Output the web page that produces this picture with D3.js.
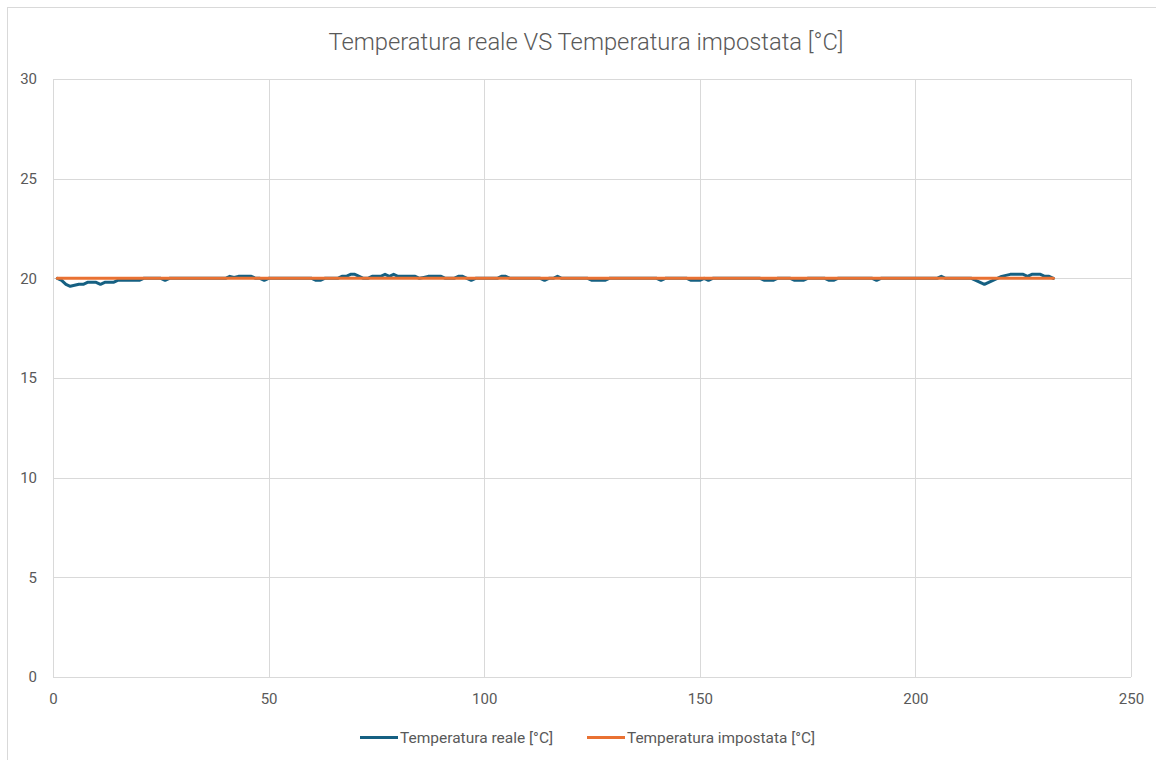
<!DOCTYPE html>
<html>
<head>
<meta charset="utf-8">
<script src="https://cdn.jsdelivr.net/npm/d3@7"></script>
<style>
  html, body { margin: 0; padding: 0; background: #ffffff; }
  svg { display: block; }
</style>
</head>
<body>
<svg id="chart" width="1156" height="760"></svg>
<script>
// ---- DATA ----
const chartTitle = "Temperatura reale VS Temperatura impostata [°C]";
const seriesNames = ["Temperatura reale [°C]", "Temperatura impostata [°C]"];
const xTicks = [0, 50, 100, 150, 200, 250];
const yTicks = [0, 5, 10, 15, 20, 25, 30];
// sample index 1..232
const sampleIndex = Array.from({length: 232}, (_, i) => i + 1);
// Temperatura reale [°C] (x = 1..232)
const realTemp = [
  20.0, 19.9, 19.7, 19.6, 19.65, 19.7, 19.7, 19.8, 19.8, 19.8,   // 1-10
  19.7, 19.8, 19.8, 19.8, 19.9, 19.9, 19.9, 19.9, 19.9, 19.9,    // 11-20
  20.0, 20.0, 20.0, 20.0, 20.0, 19.9, 20.0, 20.0, 20.0, 20.0,    // 21-30
  20.0, 20.0, 20.0, 20.0, 20.0, 20.0, 20.0, 20.0, 20.0, 20.0,    // 31-40
  20.1, 20.05, 20.1, 20.1, 20.1, 20.1, 20.0, 20.0, 19.9, 20.0,   // 41-50
  20.0, 20.0, 20.0, 20.0, 20.0, 20.0, 20.0, 20.0, 20.0, 20.0,    // 51-60
  19.9, 19.9, 20.0, 20.0, 20.0, 20.0, 20.1, 20.1, 20.2, 20.2,    // 61-70
  20.1, 20.0, 20.0, 20.1, 20.1, 20.1, 20.2, 20.1, 20.2, 20.1,    // 71-80
  20.1, 20.1, 20.1, 20.1, 20.0, 20.05, 20.1, 20.1, 20.1, 20.1,   // 81-90
  20.0, 20.0, 20.0, 20.1, 20.1, 20.0, 19.9, 20.0, 20.0, 20.0,    // 91-100
  20.0, 20.0, 20.0, 20.1, 20.1, 20.0, 20.0, 20.0, 20.0, 20.0,    // 101-110
  20.0, 20.0, 20.0, 19.9, 20.0, 20.0, 20.1, 20.0, 20.0, 20.0,    // 111-120
  20.0, 20.0, 20.0, 20.0, 19.9, 19.9, 19.9, 19.9, 20.0, 20.0,    // 121-130
  20.0, 20.0, 20.0, 20.0, 20.0, 20.0, 20.0, 20.0, 20.0, 20.0,    // 131-140
  19.9, 20.0, 20.0, 20.0, 20.0, 20.0, 20.0, 19.9, 19.9, 19.9,    // 141-150
  20.0, 19.9, 20.0, 20.0, 20.0, 20.0, 20.0, 20.0, 20.0, 20.0,    // 151-160
  20.0, 20.0, 20.0, 20.0, 19.9, 19.9, 19.9, 20.0, 20.0, 20.0,    // 161-170
  20.0, 19.9, 19.9, 19.9, 20.0, 20.0, 20.0, 20.0, 20.0, 19.9,    // 171-180
  19.9, 20.0, 20.0, 20.0, 20.0, 20.0, 20.0, 20.0, 20.0, 20.0,    // 181-190
  19.9, 20.0, 20.0, 20.0, 20.0, 20.0, 20.0, 20.0, 20.0, 20.0,    // 191-200
  20.0, 20.0, 20.0, 20.0, 20.0, 20.1, 20.0, 20.0, 20.0, 20.0,    // 201-210
  20.0, 20.0, 20.0, 19.9, 19.8, 19.7, 19.8, 19.9, 20.0, 20.1,    // 211-220
  20.15, 20.2, 20.2, 20.2, 20.2, 20.1, 20.2, 20.2, 20.2, 20.1,   // 221-230
  20.1, 20.0                                                     // 231-232
];
// Temperatura impostata [°C]
const setTemp = sampleIndex.map(() => 20);

// ---- LAYOUT ----
const W = 1156, H = 760;
const plot = { left: 53, right: 1131, top: 79, bottom: 677 };
const textColor = "#595959";
const gridColor = "#d9d9d9";
const colors = ["#156082", "#E97132"];
const fontFamily = "Roboto, 'Liberation Sans', Arial, sans-serif";

const svg = d3.select("#chart");

// outer chart border
svg.append("rect")
  .attr("x", 7.5).attr("y", 7.5)
  .attr("width", W + 20).attr("height", H + 20)
  .attr("fill", "#ffffff")
  .attr("stroke", gridColor).attr("stroke-width", 1);

const x = d3.scaleLinear().domain([0, 250]).range([plot.left, plot.right]);
const y = d3.scaleLinear().domain([0, 30]).range([plot.bottom, plot.top]);

// horizontal gridlines
svg.append("g")
  .selectAll("line").data(yTicks).join("line")
  .attr("x1", plot.left).attr("x2", plot.right)
  .attr("y1", d => Math.round(y(d)) + 0.5).attr("y2", d => Math.round(y(d)) + 0.5)
  .attr("stroke", gridColor).attr("stroke-width", 1);

// vertical gridlines
svg.append("g")
  .selectAll("line").data(xTicks).join("line")
  .attr("x1", d => Math.round(x(d)) + 0.5).attr("x2", d => Math.round(x(d)) + 0.5)
  .attr("y1", plot.top).attr("y2", plot.bottom)
  .attr("stroke", gridColor).attr("stroke-width", 1);

// y axis labels
const yAxis = d3.axisLeft(y).tickValues(yTicks).tickSize(0).tickPadding(16);
const gy = svg.append("g").attr("transform", `translate(${plot.left},0)`).call(yAxis);
gy.select(".domain").remove();
gy.selectAll("text").attr("fill", textColor).style("font-family", fontFamily).style("font-size", "15px");

// x axis labels
const xAxis = d3.axisBottom(x).tickValues(xTicks).tickSize(0).tickPadding(16);
const gx = svg.append("g").attr("transform", `translate(0,${plot.bottom})`).call(xAxis);
gx.select(".domain").remove();
gx.selectAll("text").attr("fill", textColor).style("font-family", fontFamily).style("font-size", "15px");

// lines
const line = d3.line().x((d, i) => x(sampleIndex[i])).y(d => y(d)).curve(d3.curveLinear);
svg.append("path").datum(realTemp)
  .attr("d", line).attr("fill", "none")
  .attr("stroke", colors[0]).attr("stroke-width", 3)
  .attr("stroke-linejoin", "round").attr("stroke-linecap", "round");
svg.append("path").datum(setTemp)
  .attr("d", line).attr("fill", "none")
  .attr("stroke", colors[1]).attr("stroke-width", 3)
  .attr("stroke-linejoin", "round").attr("stroke-linecap", "round");

// title
svg.append("text")
  .attr("x", 586).attr("y", 50)
  .attr("text-anchor", "middle")
  .attr("fill", textColor)
  .attr("textLength", 515).attr("lengthAdjust", "spacingAndGlyphs")
  .style("font-family", fontFamily).style("font-size", "24px").style("font-weight", 300)
  .text(chartTitle);

// legend
const legendItems = [
  { name: seriesNames[0], color: colors[0], x0: 360, w: 153 },
  { name: seriesNames[1], color: colors[1], x0: 587, w: 188 }
];
const lg = svg.append("g");
legendItems.forEach(it => {
  lg.append("line")
    .attr("x1", it.x0).attr("x2", it.x0 + 38)
    .attr("y1", 737.5).attr("y2", 737.5)
    .attr("stroke", it.color).attr("stroke-width", 3);
  lg.append("text")
    .attr("x", it.x0 + 40).attr("y", 743)
    .attr("fill", textColor)
    .attr("textLength", it.w).attr("lengthAdjust", "spacingAndGlyphs")
    .style("font-family", fontFamily).style("font-size", "15px")
    .text(it.name);
});
</script>
</body>
</html>
